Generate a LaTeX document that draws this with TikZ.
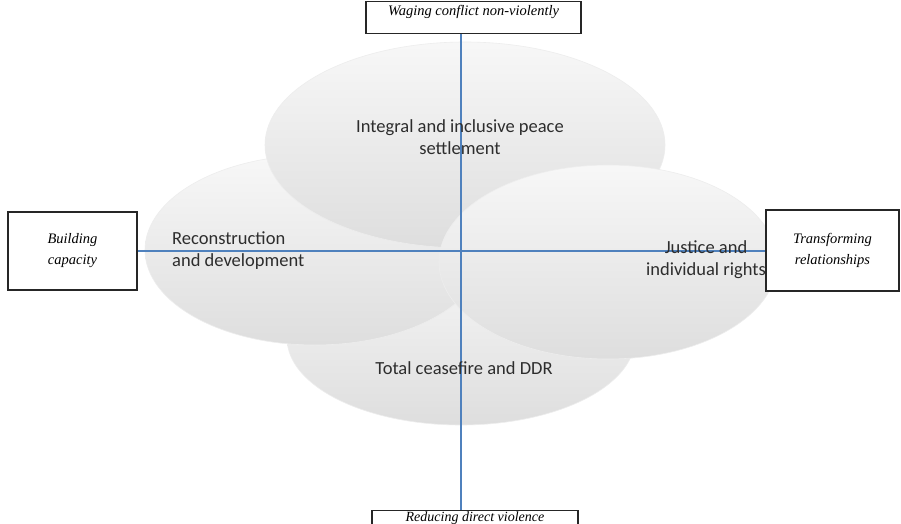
\documentclass[tikz,border=0pt]{standalone}
\usepackage{fontspec}
\setmainfont{Liberation Serif}
\newfontfamily\calib{Carlito}
\usetikzlibrary{shapes.geometric}
\definecolor{axisblue}{RGB}{79,129,189}
\definecolor{labelgray}{RGB}{45,45,45}
\tikzset{
  blob/.style={ellipse, inner sep=0pt, top color=black!3, bottom color=black!13, draw=black!7, line width=0.6pt},
  dimbox/.style={draw=black!85, line width=1.4pt, fill=white, font=\itshape\fontsize{14.5}{21}\selectfont, align=center, inner sep=0pt},
  blabel/.style={font=\calib\fontsize{18.5}{22}\selectfont, text=labelgray, inner sep=0pt},
  axis/.style={draw=axisblue, line width=1.2pt}
}
\begin{document}
\begin{tikzpicture}[x=1pt,y=-1pt]
\useasboundingbox (0,0) rectangle (901,524);
\fill[white] (0,0) rectangle (901,524);
% ellipses (back to front)
\node[blob, minimum width=348pt, minimum height=174pt] (eb) at (461,338) {};
\node[blob, minimum width=340pt, minimum height=190pt] (el) at (315,250) {};
\node[blob, minimum width=400pt, minimum height=206pt] (et) at (465,145) {};
\node[blob, minimum width=338pt, minimum height=194pt] (er) at (608,262) {};
% boxes
\node[dimbox, anchor=north, minimum width=215pt, text height=10pt, text depth=14pt, inner ysep=4pt] (top) at (473.5,1) {Waging conflict non-violently};
\node[dimbox, anchor=north, minimum width=206pt, text height=9.5pt, text depth=4pt, inner ysep=1.5pt, font=\itshape\fontsize{14}{20}\selectfont] (bot) at (475,509.5) {Reducing direct violence};
\node[dimbox, minimum width=129pt, minimum height=78pt] (lft) at (72.5,251) {Building\\capacity};
\node[dimbox, minimum width=133pt, minimum height=81pt] (rgt) at (832.5,250.5) {Transforming\\relationships};
% axes
\coordinate (o) at (461,251);
\draw[axis] (o |- top.south) -- (o |- bot.north);
\draw[axis] (lft.east |- o) -- (rgt.west |- o);
% labels
\node[blabel, align=center] (lt) at (460,137) {Integral and inclusive peace\\settlement};
\node[blabel, align=left, anchor=west] (ll) at (172,251) {Reconstruction\\and development};
\node[blabel, align=center] (lr) at (706,260) {Justice and\\individual rights};
\node[blabel] (lb) at (464,368) {Total ceasefire and DDR};
\end{tikzpicture}
\end{document}
